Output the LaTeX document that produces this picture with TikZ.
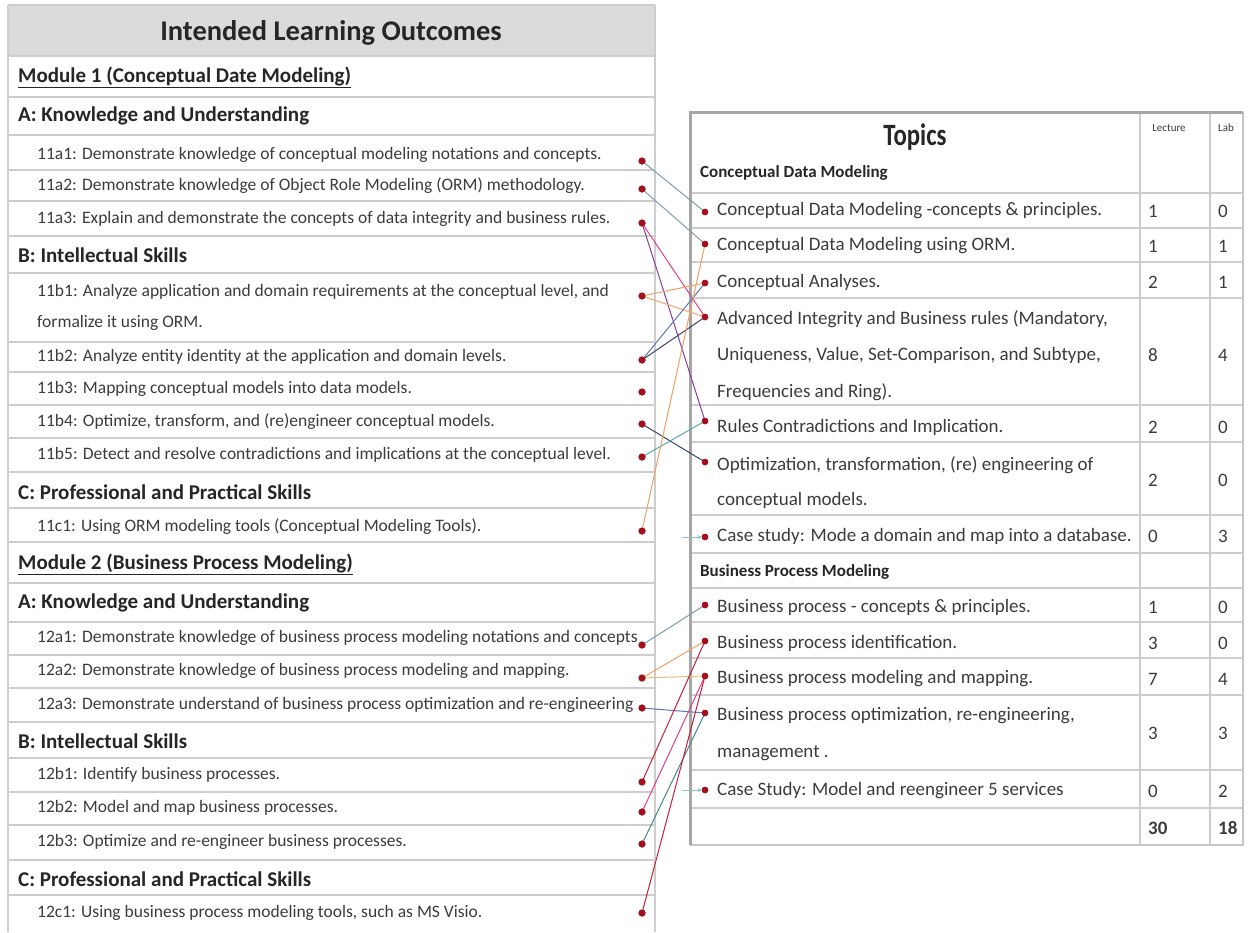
\documentclass[tikz,border=0pt]{standalone}
\usepackage{fontspec}
\setmainfont{Carlito}
\usetikzlibrary{arrows.meta}
\definecolor{txt}{HTML}{3C3C3C}
\definecolor{dotc}{HTML}{A3101C}
\definecolor{rulec}{HTML}{CDCDCD}
\definecolor{cGray}{HTML}{7F9CB0}
\definecolor{cOrange}{HTML}{F0A060}
\definecolor{cPink}{HTML}{E0408A}
\definecolor{cPurple}{HTML}{8A3C9C}
\definecolor{cNavy}{HTML}{3A4560}
\definecolor{cBlue}{HTML}{5A78B8}
\definecolor{cTeal}{HTML}{5AA8B0}
\definecolor{cRed}{HTML}{C8203C}
\definecolor{cYel}{HTML}{E8C070}
\begin{document}
\begin{tikzpicture}[x=1pt,y=-1pt,
  item/.style={anchor=west, inner sep=0pt, font=\fontsize{17.5}{20}\selectfont, text=txt},
  hdr/.style={anchor=west, inner sep=0pt, font=\fontsize{21}{24}\selectfont\bfseries, text=black!85},
  ritem/.style={anchor=west, inner sep=0pt, font=\fontsize{19}{22}\selectfont, text=txt},
  rhdr/.style={anchor=west, inner sep=0pt, font=\fontsize{17}{20}\selectfont\bfseries, text=black!85},
  num/.style={anchor=west, inner sep=0pt, font=\fontsize{19}{22}\selectfont, text=txt},
  dot/.style={circle, fill=dotc, inner sep=0pt, minimum size=7pt},
  rdot/.style={circle, fill=dotc, inner sep=0pt, minimum size=6.5pt},
  rl/.style={draw=rulec, line width=1.2pt},
  link/.style={line width=1pt},
  stub/.style={line width=1pt, cTeal!70, -{Stealth[length=4pt,width=4pt]}}
]
\useasboundingbox (0,0) rectangle (1249,932);
\fill[white] (0,0) rectangle (1249,932);

% ---------------- left table ----------------
\fill[gray!28] (8,5) rectangle (655,56);
\foreach \yy in {56,97,135,170,201,236,273,342,372,405,438,472,508,542,583,622,655,688,722,758,792,825,860,895}
  \draw[rl] (8,\yy) -- (655,\yy);
\draw[rl] (8,5) -- (655,5);
\draw[rl] (8,5) -- (8,932);
\draw[rl] (655,5) -- (655,932);

\node[inner sep=0pt, font=\fontsize{28.5}{32}\selectfont\bfseries, text=black!85] (ilo) at (331,33) {Intended Learning Outcomes};
\node[hdr] (m1) at (18,77) {\underline{Module 1 (Conceptual Date Modeling)}};
\node[hdr] (m1a) at (18,116) {A: Knowledge and Understanding};
\node[item] (l11a1) at (37,155) {11a1: Demonstrate knowledge of conceptual modeling notations and concepts.};
\node[item] (l11a2) at (37,186) {11a2: Demonstrate knowledge of Object Role Modeling (ORM) methodology.};
\node[item] (l11a3) at (37,219) {11a3: Explain and demonstrate the concepts of data integrity and business rules.};
\node[hdr] (m1b) at (18,255) {B: Intellectual Skills};
\node[item] (l11b1) at (37,292) {11b1: Analyze application and domain requirements at the conceptual level, and};
\node[item] (l11b1x) at (37,323) {formalize it using ORM.};
\node[item] (l11b2) at (37,357) {11b2: Analyze entity identity at the application and domain levels.};
\node[item] (l11b3) at (37,389) {11b3: Mapping conceptual models into data models.};
\node[item] (l11b4) at (37,422) {11b4: Optimize, transform, and (re)engineer conceptual models.};
\node[item] (l11b5) at (37,455) {11b5: Detect and resolve contradictions and implications at the conceptual level.};
\node[hdr] (m1c) at (18,492) {C: Professional and Practical Skills};
\node[item] (l11c1) at (37,527) {11c1: Using ORM modeling tools (Conceptual Modeling Tools).};
\node[hdr] (m2) at (18,564) {\underline{Module 2 (Business Process Modeling)}};
\node[hdr] (m2a) at (18,603) {A: Knowledge and Understanding};
\node[item] (l12a1) at (37,638) {12a1: Demonstrate knowledge of business process modeling notations and concepts};
\node[item] (l12a2) at (37,671) {12a2: Demonstrate knowledge of business process modeling and mapping.};
\node[item] (l12a3) at (37,705) {12a3: Demonstrate understand of business process optimization and re-engineering};
\node[hdr] (m2b) at (18,741) {B: Intellectual Skills};
\node[item] (l12b1) at (37,775) {12b1: Identify business processes.};
\node[item] (l12b2) at (37,808) {12b2: Model and map business processes.};
\node[item] (l12b3) at (37,842) {12b3: Optimize and re-engineer business processes.};
\node[hdr] (m2c) at (18,879) {C: Professional and Practical Skills};
\node[item] (l12c1) at (37,913) {12c1: Using business process modeling tools, such as MS Visio.};

% left dots
\node[dot] (d11a1) at (642,161) {};
\node[dot] (d11a2) at (642,189) {};
\node[dot] (d11a3) at (642,223) {};
\node[dot] (d11b1) at (642,296) {};
\node[dot] (d11b2) at (642,360) {};
\node[dot] (d11b3) at (642,392) {};
\node[dot] (d11b4) at (642,424) {};
\node[dot] (d11b5) at (642,457) {};
\node[dot] (d11c1) at (642,531) {};
\node[dot] (d12a1) at (642,645) {};
\node[dot] (d12a2) at (642,678) {};
\node[dot] (d12a3) at (642,708) {};
\node[dot] (d12b1) at (642,782) {};
\node[dot] (d12b2) at (642,812) {};
\node[dot] (d12b3) at (642,844) {};
\node[dot] (d12c1) at (642,913) {};

% ---------------- right table ----------------
\foreach \yy in {193,228,262,298,405,442,515,553,588,622,658,695,770,808}
  \draw[rl] (690,\yy) -- (1243,\yy);
\draw[rl] (1140,112) -- (1140,845);
\draw[rl] (1210,112) -- (1210,845);
\draw[draw=gray!45, line width=1.2pt] (1243,112) -- (1243,845) -- (690,845);
\draw[draw=gray!70, line width=3pt] (690,845) -- (690,112) -- (1243,112);

\node[inner sep=0pt, font=\fontsize{31}{34}\selectfont\bfseries, text=black!85] (topics) at (915,137) {\scalebox{0.8}[1]{Topics}};
\node[inner sep=0pt, font=\fontsize{11}{12}\selectfont, text=txt] (lec) at (1169,128) {Lecture};
\node[inner sep=0pt, font=\fontsize{11}{12}\selectfont, text=txt] (lab) at (1226,128) {Lab};

\node[rhdr] (rh1) at (700,173) {Conceptual Data Modeling};
\node[ritem] (t1) at (717,211) {Conceptual Data Modeling -concepts \& principles.};
\node[ritem] (t2) at (717,246) {Conceptual Data Modeling using ORM.};
\node[ritem] (t3) at (717,282) {Conceptual Analyses.};
\node[ritem] (t4) at (717,319) {Advanced Integrity and Business rules (Mandatory,};
\node[ritem] (t4b) at (717,355) {Uniqueness, Value, Set-Comparison, and Subtype,};
\node[ritem] (t4c) at (717,392) {Frequencies and Ring).};
\node[ritem] (t5) at (717,427) {Rules Contradictions and Implication.};
\node[ritem] (t6) at (717,465) {Optimization, transformation, (re) engineering of};
\node[ritem] (t6b) at (717,500) {conceptual models.};
\node[ritem] (t7) at (717,536) {Case study: Mode a domain and map into a database.};
\node[rhdr] (rh2) at (700,572) {Business Process Modeling};
\node[ritem] (t8) at (717,607) {Business process - concepts \& principles.};
\node[ritem] (t9) at (717,643) {Business process identification.};
\node[ritem] (t10) at (717,679) {Business process modeling and mapping.};
\node[ritem] (t11) at (717,716) {Business process optimization, re-engineering,};
\node[ritem] (t11b) at (717,753) {management .};
\node[ritem] (t12) at (717,791) {Case Study: Model and reengineer  5 services};

% numbers
\foreach \yy/\a/\b in {211/1/0, 246/1/1, 282/2/1, 355/8/4, 427/2/0, 480/2/0, 536/0/3, 607/1/0, 643/3/0, 679/7/4, 733/3/3, 791/0/2}{
  \node[num] at (1148,\yy) {\a};
  \node[num] at (1218,\yy) {\b};
}
\node[num, font=\fontsize{19}{22}\selectfont\bfseries] (tot1) at (1148,828) {30};
\node[num, font=\fontsize{19}{22}\selectfont\bfseries] (tot2) at (1218,828) {18};

% right dots
\node[rdot] (r1) at (705,212) {};
\node[rdot] (r2) at (705,244) {};
\node[rdot] (r3) at (705,283) {};
\node[rdot] (r4) at (705,317) {};
\node[rdot] (r5) at (705,421) {};
\node[rdot] (r6) at (705,462) {};
\node[rdot] (r7) at (705,537) {};
\node[rdot] (r8) at (705,605) {};
\node[rdot] (r9) at (705,641) {};
\node[rdot] (r10) at (705,676) {};
\node[rdot] (r11) at (705,713) {};
\node[rdot] (r12) at (705,790) {};

% ---------------- connectors ----------------
\draw[link, cGray] (d11a1.center) -- (r1.center);
\draw[link, cGray] (d11a2.center) -- (r2.center);
\draw[link, cPink] (d11a3.center) -- (r4.center);
\draw[link, cPurple] (d11a3.center) -- (r5.center);
\draw[link, cOrange] (d11b1.center) -- (r3.center);
\draw[link, cOrange!80!pink] (d11b1.center) -- (r4.center);
\draw[link, cBlue] (d11b2.center) -- (r3.center);
\draw[link, cNavy] (d11b2.center) -- (r4.center);
\draw[link, cNavy] (d11b4.center) -- (r6.center);
\draw[link, cTeal] (d11b5.center) -- (r5.center);
\draw[link, cOrange] (d11c1.center) -- (r2.center);
\coordinate (s1) at (682,537);
\draw[stub] (s1) -- (r7);
\draw[link, cGray] (d12a1.center) -- (r8.center);
\draw[link, cOrange] (d12a2.center) -- (r9.center);
\draw[link, cYel] (d12a2.center) -- (r10.center);
\draw[link, cBlue] (d12a3.center) -- (r11.center);
\draw[link, cRed] (d12b1.center) -- (r9.center);
\draw[link, cPink] (d12b2.center) -- (r10.center);
\draw[link, cTeal!80!black] (d12b3.center) -- (r11.center);
\draw[link, cRed] (d12c1.center) -- (r10.center);
\coordinate (s2) at (682,790);
\draw[stub] (s2) -- (r12);

% redraw dots on top
\foreach \n in {d11a1,d11a2,d11a3,d11b1,d11b2,d11b3,d11b4,d11b5,d11c1,d12a1,d12a2,d12a3,d12b1,d12b2,d12b3,d12c1}
  \fill[dotc] (\n) circle (3.5pt);
\foreach \n in {r1,r2,r3,r4,r5,r6,r7,r8,r9,r10,r11,r12}
  \fill[dotc] (\n) circle (3.25pt);
\end{tikzpicture}
\end{document}
